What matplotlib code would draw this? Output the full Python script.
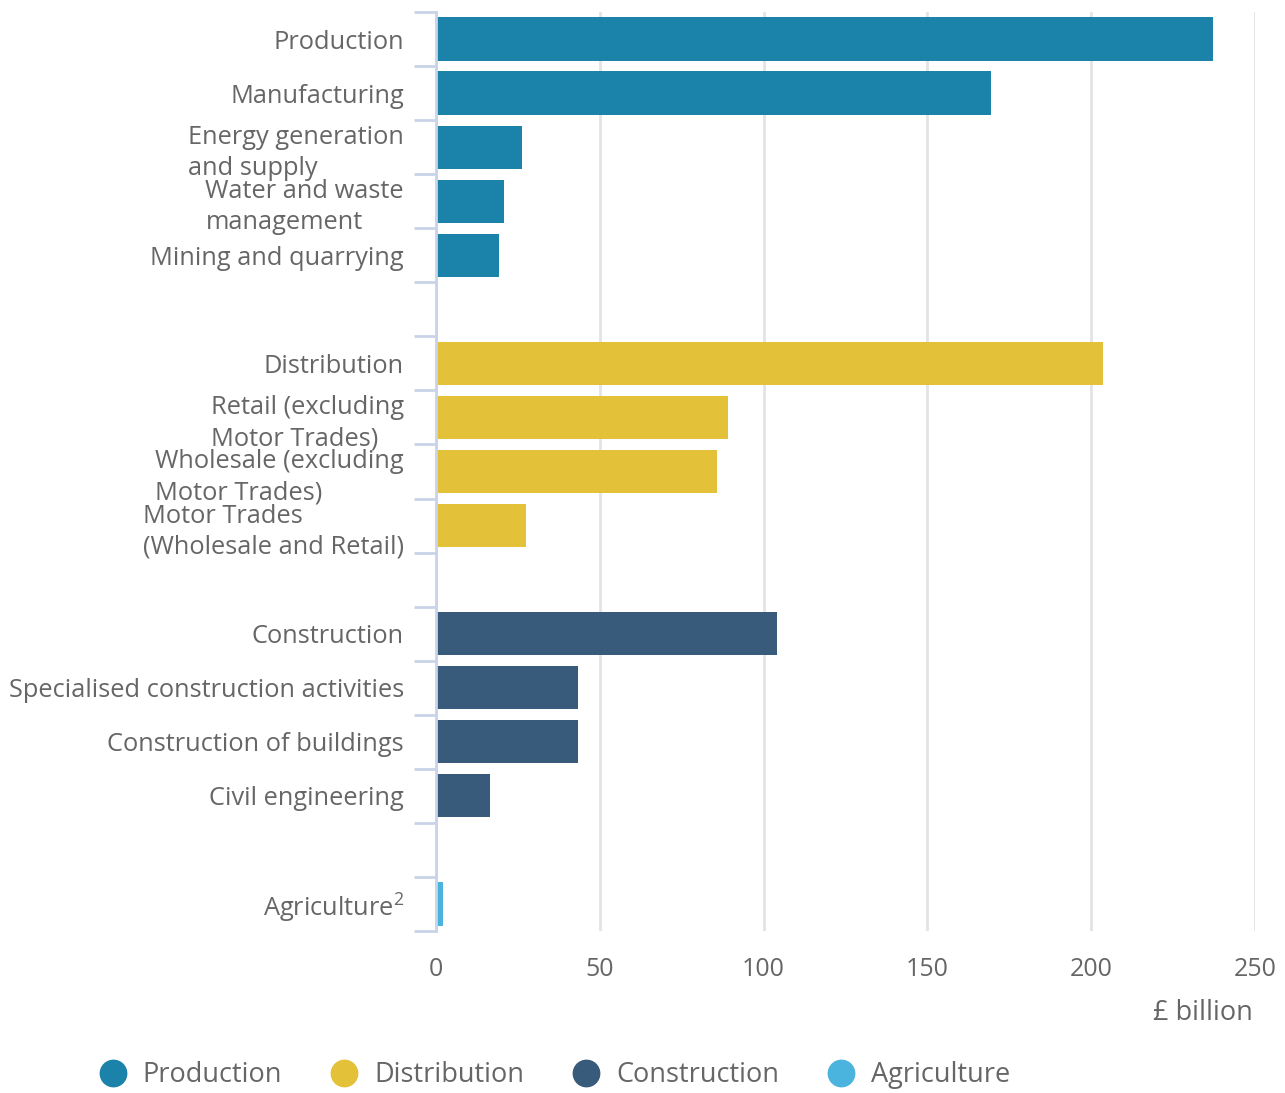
import matplotlib

matplotlib.use("Agg")

import matplotlib.pyplot as plt
from matplotlib.lines import Line2D

# rows from top to bottom; None marks the blank spacer rows between groups
categories = [
    "Production",
    "Manufacturing",
    "Energy generation\nand supply",
    "Water and waste\nmanagement",
    "Mining and quarrying",
    None,
    "Distribution",
    "Retail (excluding\nMotor Trades)",
    "Wholesale (excluding\nMotor Trades)",
    "Motor Trades\n(Wholesale and Retail)",
    None,
    "Construction",
    "Specialised construction activities",
    "Construction of buildings",
    "Civil engineering",
    None,
    "Agriculture$^2$",
]
values = [237.2, 169.4, 26.3, 20.8, 19.2, None,
          203.6, 89.1, 85.8, 27.5, None,
          104.1, 43.3, 43.3, 16.5, None,
          2.1]
groups = ["Production"] * 5 + [None] + ["Distribution"] * 4 + [None] + ["Construction"] * 4 + [None] + ["Agriculture"]

group_names = ["Production", "Distribution", "Construction", "Agriculture"]
group_colors = {
    "Production": "#1b82aa",
    "Distribution": "#e3c23a",
    "Construction": "#385b7c",
    "Agriculture": "#4bb4de",
}
x_ticks = [0, 50, 100, 150, 200, 250]
x_label = "£ billion"

TEXT = "#666666"
SPINE = "#c9d4e8"
GRID = "#e3e3e3"
FONT = ["Open Sans", "DejaVu Sans"]

plt.rcParams["font.family"] = FONT
plt.rcParams["mathtext.fontset"] = "custom"
plt.rcParams["mathtext.rm"] = "Open Sans"
plt.rcParams["mathtext.default"] = "regular"

fig = plt.figure(figsize=(12.85, 10.93), dpi=100)
ax = fig.add_axes([436 / 1285, 1 - 931 / 1093, (1255 - 436) / 1285, 919 / 1093])

n = len(categories)
for i, (cat, val, grp) in enumerate(zip(categories, values, groups)):
    if val is None:
        continue
    ax.barh(i, val, height=0.8, color=group_colors[grp], zorder=3)

ax.set_ylim(n - 0.5, -0.5)
ax.set_xlim(0, 250)

label_pos = [i for i, c in enumerate(categories) if c is not None]
ax.set_yticks(label_pos)
ax.set_yticklabels([categories[i] for i in label_pos])
ax.set_yticks([i - 0.5 for i in range(n + 1)], minor=True)
ax.tick_params(axis="y", which="major", length=0, pad=23, labelsize=18.3, labelcolor=TEXT)
ax.tick_params(axis="y", which="minor", length=16, width=2, color=SPINE)
for lbl in ax.get_yticklabels():
    lbl.set_multialignment("left")
    lbl.set_linespacing(1.32)

ax.set_xticks(x_ticks)
ax.tick_params(axis="x", length=0, pad=19, labelsize=18, labelcolor=TEXT)
ax.grid(axis="x", color=GRID, linewidth=2, zorder=0)

for side in ["top", "right", "bottom"]:
    ax.spines[side].set_visible(False)
ax.spines["left"].set_color(SPINE)
ax.spines["left"].set_linewidth(2)
ax.spines["left"].set_zorder(4)

fig.text(1253 / 1285, 1 - 1013 / 1093, x_label, ha="right", va="center", fontsize=19.5, color=TEXT)

handles = [
    Line2D([], [], linestyle="none", marker="o", markersize=19,
           markerfacecolor=group_colors[g], markeredgecolor=group_colors[g])
    for g in group_names
]
leg = fig.legend(handles, group_names, loc="center left", bbox_to_anchor=(99 / 1285, 1 - 1075 / 1093),
                 ncol=4, frameon=False, fontsize=19.5, handlelength=1.0, handletextpad=0.6,
                 columnspacing=1.8, labelcolor=TEXT, borderaxespad=0, borderpad=0)

fig.savefig("out.png", dpi=100)
